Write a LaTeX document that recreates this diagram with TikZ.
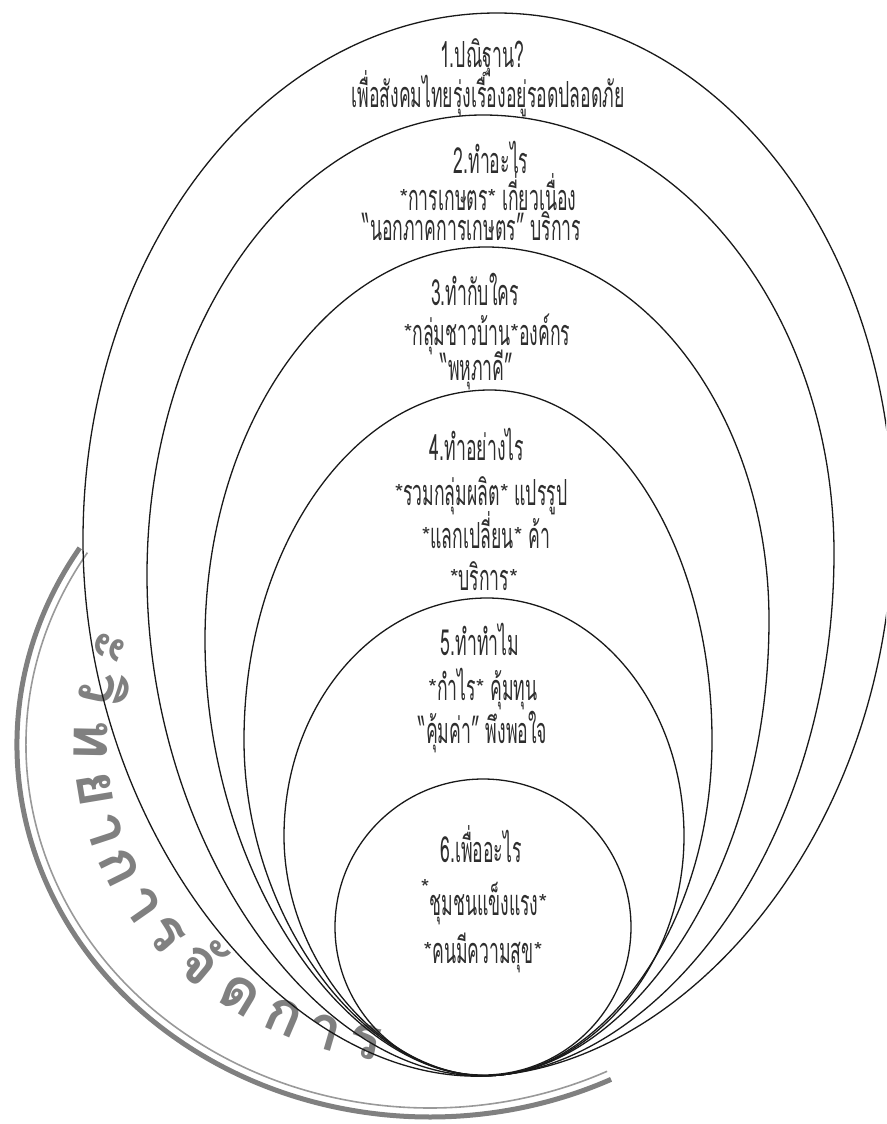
\documentclass[tikz,border=0pt]{standalone}
\usepackage{fontspec}
\newfontfamily\thaifont[Script=Thai,FakeStretch=0.49]{Loma}
\newfontfamily\stampfont[Script=Thai]{Loma}
\newfontfamily\starfont{Loma}
\usetikzlibrary{calc}
% one egg-shaped ring: left point, top point, right point; all meet at (500,1075)
\def\egg[#1](#2,#3)(#4,#5)(#6,#7){\draw[#1] (500,1075)
  .. controls ({500-0.496*(500-#2)},{1075+0.05*(500-#2)}) and (#2,{#3+0.55*(1075-#3)}) .. (#2,#3)
  .. controls (#2,{#3-0.5523*(#3-#5)}) and ({#4-0.5523*(#4-#2)},#5) .. (#4,#5)
  .. controls ({#4+0.5523*(#6-#4)},#5) and (#6,{#7-0.5523*(#7-#5)}) .. (#6,#7)
  .. controls (#6,{#7+0.55*(1075-#7)}) and ({500+0.496*(#6-500)},{1075-0.05*(#6-500)}) .. (500,1075);}
\def\st{\raisebox{.12em}{\starfont\fontsize{22}{22}\selectfont *}}
\def\sthi{\raisebox{.55em}{\starfont\fontsize{22}{22}\selectfont *}}

\begin{document}
\begin{tikzpicture}[x=1pt,y=-1pt,
  line/.style={line width=1.3pt,line cap=round,black!90},
  txt/.style={font=\thaifont\fontsize{36}{36}\selectfont,text=black!82,anchor=base,inner sep=0pt},
  stamptxt/.style={font=\stampfont\bfseries\fontsize{60}{60}\selectfont,text=black!50,anchor=base,inner sep=0pt}]
		\useasboundingbox (0,0) rectangle (886,1124);
		\clip (0,0) rectangle (886,1124);
		%%%%% STAMP %%%%%
		\draw[black!50,line width=5pt] (430,745) ++(212:413 and 372) arc [start angle=212,end angle=64,x radius=413,y radius=372];
		\draw[black!40,line width=1.6pt] (430,745) ++(212:404 and 363) arc [start angle=212,end angle=64,x radius=404,y radius=363];
		\foreach \s/\a in {ะ/199,วิ/191,ท/181,ย/171.5,า/163.5,ก/156,า/148,ร/141,จั/133,ด/124,ก/115.5,า/108,ร/101}
			\node[stamptxt,rotate={atan2(319*cos(\a),356*sin(\a))}] (s\a) at ({430+356*cos(\a)},{745+319*sin(\a)}) {\s};
		%%%%% RINGS %%%%%
		\egg[line](83,540)(497,13)(893,520)
		\egg[line](147,575)(483,115)(834,553)
		\egg[line](205,640)(486,247)(769,620)
		\egg[line](244,740)(490,390)(712,740)
		\egg[line](284,836)(487,598)(684,836)
		\draw[line] (483,927) circle (148);
		%%%%% TEXT %%%%%
		\node[txt] (t1a) at (482,67) {1.ปณิฐาน?};
		\node[txt] (t1b) at (488,107) {เพื่อสังคมไทยรุ่งเรืองอยู่รอดปลอดภัย};
		\node[txt] (t2a) at (491,173) {2.ทำอะไร};
		\node[txt] (t2b) at (488,210) {\st การเกษตร\st{} เกี่ยวเนื่อง};
		\node[txt] (t2c) at (472,240) {“นอกภาคการเกษตร” บริการ};
		\node[txt] (t3a) at (475,305) {3.ทำกับใคร};
		\node[txt] (t3b) at (487,345) {\st กลุ่มชาวบ้าน\st องค์กร};
		\node[txt] (t3c) at (477,380) {“พหุภาคี”};
		\node[txt] (t4a) at (477,460) {4.ทำอย่างไร};
		\node[txt] (t4b) at (481,505) {\st รวมกลุ่มผลิต\st{} แปรรูป};
		\node[txt] (t4c) at (486,548) {\st แลกเปลี่ยน\st{} ค้า};
		\node[txt] (t4d) at (484,590) {\st บริการ\st};
		\node[txt] (t5a) at (480,655) {5.ทำทำไม};
		\node[txt] (t5b) at (483,700) {\st กำไร\st{} คุ้มทุน};
		\node[txt] (t5c) at (483,743) {“คุ้มค่า” พึงพอใจ};
		\node[txt] (t6a) at (481,862) {6.เพื่ออะไร};
		\node[txt] (t6b) at (484,915) {\sthi ชุมชนแข็งแรง\st};
		\node[txt] (t6c) at (483,963) {\st คนมีความสุข\st};
		%%%%% END %%%%%
	\end{tikzpicture}
\end{document}
